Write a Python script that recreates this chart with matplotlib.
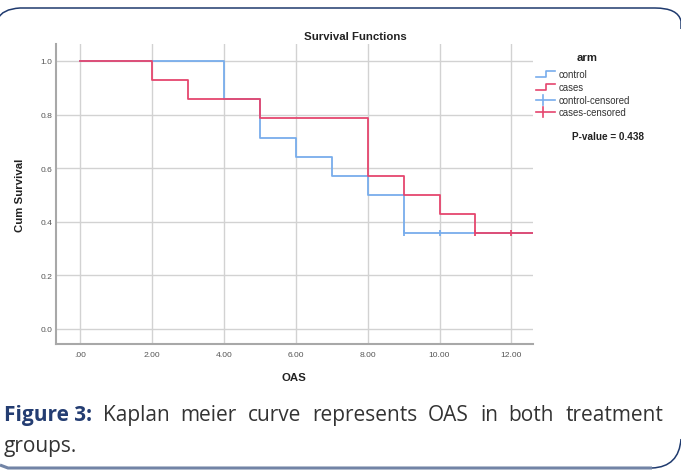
import numpy as np
import matplotlib
matplotlib.use('Agg')
import matplotlib.pyplot as plt
import matplotlib.transforms as mtransforms
from matplotlib.path import Path
from matplotlib.patches import PathPatch
from matplotlib.lines import Line2D

plt.rcParams['font.family'] = ['Liberation Sans', 'DejaVu Sans']

# values
control_times = [0, 4, 5, 6, 7, 8, 9]
control_surv = [1.0, 0.857, 0.714, 0.643, 0.571, 0.500, 0.357]
control_censored = [9, 10]
cases_times = [0, 2, 3, 5, 8, 9, 10, 11]
cases_surv = [1.0, 0.929, 0.857, 0.786, 0.571, 0.500, 0.429, 0.357]
cases_censored = [11, 12]
follow_up_end = 12.6

x_ticks = [0, 2, 4, 6, 8, 10, 12]
x_ticklabels = ['.00', '2.00', '4.00', '6.00', '8.00', '10.00', '12.00']
y_ticks = [0.0, 0.2, 0.4, 0.6, 0.8, 1.0]
y_ticklabels = ['0.0', '0.2', '0.4', '0.6', '0.8', '1.0']
legend_labels = ['control', 'cases', 'control-censored', 'cases-censored']
p_value = 0.438

caption_words = ['Kaplan', 'meier', 'curve', 'represents', 'OAS', 'in', 'both', 'treatment']

col_control = '#78adec'
col_cases = '#e5466e'
W, H = 681, 477


def surv_at(times, surv, t):
    i = np.searchsorted(times, t, side='right') - 1
    return surv[i]


def fx(x):
    return x / W


def fy(y):
    return 1 - y / H


fig = plt.figure(figsize=(W / 100, H / 100), dpi=100, facecolor='white')
ax = fig.add_axes([fx(56), fy(345), (533 - 56) / W, (345 - 45) / H])

# step curves
for times, surv, cens, col in [(control_times, control_surv, control_censored, col_control),
                               (cases_times, cases_surv, cases_censored, col_cases)]:
    ax.step(times + [follow_up_end], surv + [surv[-1]], where='post', color=col, linewidth=1.3, zorder=3)
    ax.plot(cens, [surv_at(times, surv, c) for c in cens], linestyle='none', marker='|',
            markersize=5, markeredgewidth=1.3, color=col, zorder=4)

ax.set_xlim(-0.67, follow_up_end)
ax.set_ylim(-0.056, 1.063)
ax.set_xticks(x_ticks)
ax.set_xticklabels(x_ticklabels)
ax.set_yticks(y_ticks)
ax.set_yticklabels(y_ticklabels)
ax.tick_params(length=0, labelsize=6.1, colors='#555555')
ax.tick_params(axis='x', pad=5)
ax.tick_params(axis='y', pad=2.5)
ax.grid(True, color='#d2d2d2', linewidth=1.0)
ax.set_axisbelow(True)
for s in ['top', 'right']:
    ax.spines[s].set_visible(False)
for s in ['left', 'bottom']:
    ax.spines[s].set_color('#a8a8a8')
    ax.spines[s].set_linewidth(1.5)

fig.text(fx(355), fy(37), 'Survival Functions', ha='center', va='center', fontsize=8.2, fontweight='bold', color='#222222')
fig.text(fx(294), fy(378), 'OAS', ha='center', va='center', fontsize=8.2, fontweight='bold', color='#222222')
fig.text(fx(20), fy(195), 'Cum Survival', ha='center', va='center', rotation=90, fontsize=8.2, fontweight='bold', color='#222222')

# legend drawn by hand
fig.text(fx(587), fy(58), 'arm', ha='center', va='center', fontsize=8.2, fontweight='bold', color='#222222')
rows_y = [75, 88, 101, 113]
cols = [col_control, col_cases, col_control, col_cases]
for i, (lab, yy, c) in enumerate(zip(legend_labels, rows_y, cols)):
    if i < 2:
        xs = [fx(536), fx(546), fx(546), fx(555)]
        ys = [fy(yy + 3), fy(yy + 3), fy(yy - 3), fy(yy - 3)]
        fig.add_artist(Line2D(xs, ys, color=c, linewidth=1.2))
    else:
        fig.add_artist(Line2D([fx(536), fx(555)], [fy(yy), fy(yy)], color=c, linewidth=1.2))
        fig.add_artist(Line2D([fx(543), fx(543)], [fy(yy - 5), fy(yy + 5)], color=c, linewidth=1.2))
    fig.text(fx(558.5), fy(yy), lab, ha='left', va='center', fontsize=6.9, color='#333333')
fig.text(fx(608), fy(137), 'P-value = %.3f' % p_value, ha='center', va='center', fontsize=7.2,
         fontweight='bold', color='#222222')

# caption, first line justified between x=4 and x=663
cap_kw = dict(ha='left', va='baseline', fontsize=15, family='Open Sans')
words = [fig.text(fx(4), fy(421), 'Figure 3:', fontweight='bold', color='#243d72', **cap_kw)]
for w in caption_words:
    words.append(fig.text(fx(4), fy(421), w, color='#333333', **cap_kw))
renderer = fig.canvas.get_renderer()
widths = [t.get_window_extent(renderer).width for t in words]
gap = (663 - 4 - sum(widths)) / (len(words) - 1)
x = 4
for t, wd in zip(words, widths):
    t.set_x(fx(x))
    x += wd + gap
fig.text(fx(4), fy(452), 'groups.', color='#333333', **cap_kw)

# rounded frame
to_fig = mtransforms.Affine2D().scale(1 / W, -1 / H).translate(0, 1) + fig.transFigure
top = Path([(-2, 20), (2, 10), (20, 9), (655, 9), (678, 9), (681, 22), (681, 30)],
           [Path.MOVETO, Path.CURVE3, Path.CURVE3, Path.LINETO, Path.CURVE3, Path.CURVE3, Path.LINETO])
fig.add_artist(PathPatch(top, transform=to_fig, facecolor='none', edgecolor='#1f3a6e', linewidth=1.1))
right = Path([(681, 440), (679, 468), (652, 469)], [Path.MOVETO, Path.CURVE3, Path.CURVE3])
fig.add_artist(PathPatch(right, transform=to_fig, facecolor='none', edgecolor='#1f3a6e', linewidth=1.1))
bottom = Path([(652, 469), (8, 469), (0, 466)], [Path.MOVETO, Path.LINETO, Path.LINETO])
fig.add_artist(PathPatch(bottom, transform=to_fig, facecolor='none', edgecolor='#7284a6', linewidth=2.2))

fig.savefig('out.png', dpi=100, facecolor='white')
